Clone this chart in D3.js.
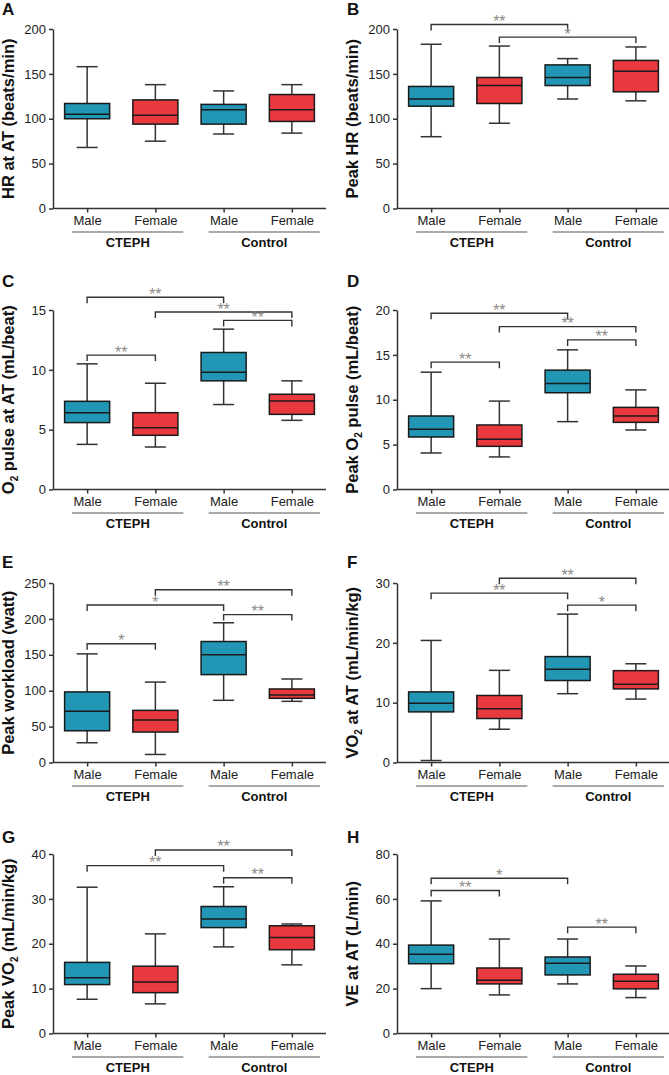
<!DOCTYPE html>
<html>
<head>
<meta charset="utf-8">
<script src="https://cdn.jsdelivr.net/npm/d3@7"></script>
<style>
  html, body { margin: 0; padding: 0; background: #ffffff; }
  svg { display: block; font-family: "Liberation Sans", Arial, Helvetica, sans-serif; }
</style>
</head>
<body>
<svg id="chart" width="669" height="1075"></svg>
<script>
// ---------- data ----------
const categories = ["Male", "Female", "Male", "Female"];
const groups = ["CTEPH", "Control"];
const boxColors = ["#2197b5", "#e8393f", "#2197b5", "#e8393f"];

// each box: [min, Q1, median, Q3, max]
const hrAtAT = [[68, 100, 105, 117, 158], [75, 94, 104, 121, 138], [83, 94, 110, 116, 131], [84, 97, 110, 127, 138]];
const peakHR = [[80, 114, 122, 136, 183], [95, 117, 137, 146, 181], [122, 137, 146, 160, 167], [120, 130, 153, 165, 180]];
const o2PulseAT = [[3.77, 5.59, 6.42, 7.37, 10.5], [3.55, 4.53, 5.17, 6.42, 8.88], [7.1, 9.08, 9.8, 11.45, 13.4], [5.78, 6.28, 7.4, 7.96, 9.08]];
const peakO2Pulse = [[4.07, 5.85, 6.7, 8.19, 13.07], [3.63, 4.81, 5.6, 7.19, 9.85], [7.56, 10.78, 11.8, 13.3, 15.56], [6.63, 7.48, 8.19, 9.15, 11.1]];
const peakWorkload = [[27.5, 44.2, 71.3, 98.3, 151.3], [11.2, 42.4, 59.1, 72.6, 112], [86.6, 122.4, 149.9, 168.5, 194.6], [85.2, 89.4, 94, 102.4, 116.3]];
const vo2AT = [[0.33, 8.46, 9.9, 11.8, 20.4], [5.56, 7.35, 9.0, 11.2, 15.4], [11.5, 13.7, 15.6, 17.7, 24.8], [10.6, 12.3, 13.06, 15.35, 16.5]];
const peakVO2 = [[7.63, 10.9, 12.44, 15.85, 32.6], [6.6, 9.1, 11.5, 15.0, 22.2], [19.3, 23.6, 25.5, 28.3, 32.7], [15.3, 18.67, 21.4, 24.0, 24.4]];
const veAT = [[20, 31.1, 35.3, 39.4, 59.1], [17.2, 22.1, 23.7, 29.2, 42.1], [22.1, 26.1, 31.3, 34.1, 42.1], [16, 19.9, 23.3, 26.4, 30.1]];

// significance brackets: [from index, to index, level value, label]
const bracketsA = [];
const bracketsB = [[0, 2, 205, "**"], [1, 3, 191, "*"]];
const bracketsC = [[0, 2, 16.06, "**"], [1, 3, 14.83, "**"], [2, 3, 14.13, "**"], [0, 1, 11.23, "**"]];
const bracketsD = [[0, 2, 19.63, "**"], [1, 3, 18.15, "**"], [2, 3, 16.67, "**"], [0, 1, 14.19, "**"]];
const bracketsE = [[1, 3, 240.7, "**"], [0, 2, 219.3, "*"], [2, 3, 206, "**"], [0, 1, 165.4, "*"]];
const bracketsF = [[1, 3, 30.8, "**"], [0, 2, 28.3, "**"], [2, 3, 26.3, "*"]];
const bracketsG = [[1, 3, 40.9, "**"], [0, 2, 37.4, "**"], [2, 3, 34.7, "**"]];
const bracketsH = [[0, 2, 69.2, "*"], [0, 1, 63.7, "**"], [2, 3, 47.4, "**"]];

// y tick labels
const ticksA = [0, 50, 100, 150, 200];
const ticksB = [0, 50, 100, 150, 200];
const ticksC = [0, 5, 10, 15];
const ticksD = [0, 5, 10, 15, 20];
const ticksE = [0, 50, 100, 150, 200, 250];
const ticksF = [0, 10, 20, 30];
const ticksG = [0, 10, 20, 30, 40];
const ticksH = [0, 20, 40, 60, 80];

// y-axis titles: [text, subscript, rest]
const titleA = ["HR at AT (beats/min)", "", ""];
const titleB = ["Peak HR (beats/min)", "", ""];
const titleC = ["O", "2", " pulse at AT (mL/beat)"];
const titleD = ["Peak O", "2", " pulse (mL/beat)"];
const titleE = ["Peak workload (watt)", "", ""];
const titleF = ["VO", "2", " at AT (mL/min/kg)"];
const titleG = ["Peak VO", "2", " (mL/min/kg)"];
const titleH = ["VE at AT (L/min)", "", ""];

const panelLetters = ["A", "B", "C", "D", "E", "F", "G", "H"];

// ---------- layout ----------
const colAxisX = [53, 397];
const rowTop = [29, 310, 583, 854];
const plotH = 179.5;
const plotW = 273;
const letterY = [15, 287, 568, 843];
const letterX = [2, 347];

const panels = [
  { data: hrAtAT, br: bracketsA, ticks: ticksA, title: titleA },
  { data: peakHR, br: bracketsB, ticks: ticksB, title: titleB },
  { data: o2PulseAT, br: bracketsC, ticks: ticksC, title: titleC },
  { data: peakO2Pulse, br: bracketsD, ticks: ticksD, title: titleD },
  { data: peakWorkload, br: bracketsE, ticks: ticksE, title: titleE },
  { data: vo2AT, br: bracketsF, ticks: ticksF, title: titleF },
  { data: peakVO2, br: bracketsG, ticks: ticksG, title: titleG },
  { data: veAT, br: bracketsH, ticks: ticksH, title: titleH }
];

const svg = d3.select("#chart");
const axisColor = "#333333";

panels.forEach((p, i) => {
  const col = i % 2, row = Math.floor(i / 2);
  const x0 = colAxisX[col], top = rowTop[row], bottom = top + plotH;

  const y = d3.scaleLinear()
    .domain([0, d3.max(p.ticks)])
    .range([bottom, top]);
  const x = d3.scalePoint()
    .domain(d3.range(4))
    .range([x0, x0 + plotW])
    .padding(0.5);
  const boxW = x.step() * 0.66;
  const capW = 21;

  const g = svg.append("g");

  // panel letter
  g.append("text")
    .attr("x", letterX[col]).attr("y", letterY[row])
    .attr("font-size", 17).attr("font-weight", "bold").attr("fill", "#111")
    .text(panelLetters[i]);

  // y axis
  const yAxis = d3.axisLeft(y).tickValues(p.ticks).tickSize(4).tickSizeOuter(0).tickPadding(3);
  const ya = g.append("g").attr("transform", `translate(${x0},0)`).call(yAxis);
  ya.select(".domain").attr("stroke", axisColor).attr("stroke-width", 1.5);
  ya.selectAll(".tick line").attr("stroke", axisColor).attr("stroke-width", 1.5);
  ya.selectAll(".tick text").attr("font-size", 13).attr("fill", "#222")
    .attr("font-family", "'Liberation Sans', Arial, sans-serif");

  // x axis
  const xAxis = d3.axisBottom(x).tickSize(4).tickSizeOuter(0).tickFormat(d => categories[d]).tickPadding(3);
  const xa = g.append("g").attr("transform", `translate(0,${bottom})`).call(xAxis);
  xa.select(".domain").attr("stroke", axisColor).attr("stroke-width", 1.5)
    .attr("d", `M${x0},0H${x0 + plotW}`);
  xa.selectAll(".tick line").attr("stroke", axisColor).attr("stroke-width", 1.5);
  xa.selectAll(".tick text").attr("font-size", 13).attr("fill", "#222")
    .attr("font-family", "'Liberation Sans', Arial, sans-serif");

  // group underline + labels
  groups.forEach((gr, k) => {
    const xa1 = x(2 * k) - 15, xa2 = x(2 * k + 1) + 28;
    g.append("line")
      .attr("x1", xa1).attr("x2", xa2)
      .attr("y1", bottom + 23.5).attr("y2", bottom + 23.5)
      .attr("stroke", "#555").attr("stroke-width", 1);
    g.append("text")
      .attr("x", (xa1 + xa2) / 2).attr("y", bottom + 38)
      .attr("text-anchor", "middle").attr("font-size", 13).attr("font-weight", "bold").attr("fill", "#111")
      .text(gr);
  });

  // y title
  const t = g.append("text")
    .attr("transform", `translate(${x0 - 39},${(top + bottom) / 2}) rotate(-90)`)
    .attr("text-anchor", "middle").attr("font-size", 16.5).attr("font-weight", "bold").attr("fill", "#111");
  t.append("tspan").text(p.title[0]);
  if (p.title[1]) {
    t.append("tspan").attr("font-size", 10).attr("dy", 4).text(p.title[1]);
    t.append("tspan").attr("dy", -4).text(p.title[2]);
  }

  // boxes
  const b = g.selectAll(".box").data(p.data).enter().append("g");
  b.append("line") // whisker
    .attr("x1", (d, j) => x(j)).attr("x2", (d, j) => x(j))
    .attr("y1", d => y(d[0])).attr("y2", d => y(d[4]))
    .attr("stroke", axisColor).attr("stroke-width", 1.5);
  b.append("line") // min cap
    .attr("x1", (d, j) => x(j) - capW / 2).attr("x2", (d, j) => x(j) + capW / 2)
    .attr("y1", d => y(d[0])).attr("y2", d => y(d[0]))
    .attr("stroke", axisColor).attr("stroke-width", 1.5);
  b.append("line") // max cap
    .attr("x1", (d, j) => x(j) - capW / 2).attr("x2", (d, j) => x(j) + capW / 2)
    .attr("y1", d => y(d[4])).attr("y2", d => y(d[4]))
    .attr("stroke", axisColor).attr("stroke-width", 1.5);
  b.append("rect")
    .attr("x", (d, j) => x(j) - boxW / 2).attr("width", boxW)
    .attr("y", d => y(d[3])).attr("height", d => y(d[1]) - y(d[3]))
    .attr("fill", (d, j) => boxColors[j]).attr("stroke", "#1a1a1a").attr("stroke-width", 1.5);
  b.append("line") // median
    .attr("x1", (d, j) => x(j) - boxW / 2).attr("x2", (d, j) => x(j) + boxW / 2)
    .attr("y1", d => y(d[2])).attr("y2", d => y(d[2]))
    .attr("stroke", "#1a1a1a").attr("stroke-width", 1.5);

  // brackets
  const leg = 6;
  p.br.forEach(br => {
    const xa1 = x(br[0]), xa2 = x(br[1]), yy = y(br[2]);
    g.append("path")
      .attr("d", `M${xa1},${yy + leg}V${yy}H${xa2}V${yy + leg}`)
      .attr("fill", "none").attr("stroke", axisColor).attr("stroke-width", 1.4);
    g.append("text")
      .attr("x", (xa1 + xa2) / 2).attr("y", yy + 2.5)
      .attr("text-anchor", "middle").attr("font-size", 16).attr("fill", "#8a8a8a")
      .text(br[3]);
  });
});
</script>
</body>
</html>
